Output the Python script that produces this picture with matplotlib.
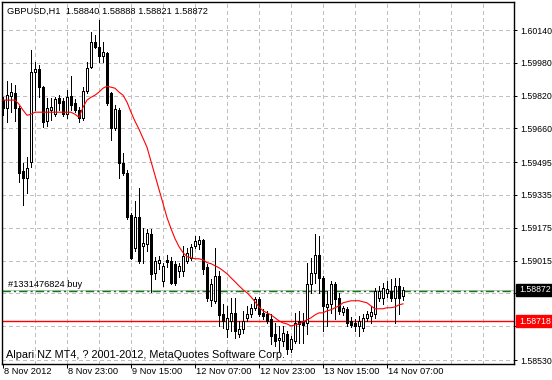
import matplotlib
matplotlib.use("Agg")
import matplotlib.pyplot as plt
from matplotlib.patches import Rectangle
import matplotlib.transforms as mtransforms

plt.rcParams['font.family'] = ['Liberation Sans', 'DejaVu Sans']
plt.rcParams['lines.scale_dashes'] = False

# ---------------- data ----------------
symbol_title = "GBPUSD,H1  1.58840 1.58888 1.58821 1.58872"

opens = [1.59798, 1.59758, 1.59817, 1.59832, 1.59758, 1.59450, 1.59416, 1.59494, 1.59935, 1.59949,
         1.59861, 1.59695, 1.59749, 1.59729, 1.59807, 1.59793, 1.59729, 1.59817, 1.59783, 1.59749,
         1.59710, 1.59842, 1.59959, 1.60082, 1.60057, 1.60013, 1.60028, 1.59832, 1.59661, 1.59749,
         1.59489, 1.59440, 1.59235, 1.59078, 1.59230, 1.59088, 1.59098, 1.59147, 1.58956, 1.59005,
         1.58917, 1.59019, 1.59015, 1.59000, 1.58966, 1.58966, 1.59015, 1.59029, 1.59088, 1.59098,
         1.59117, 1.58985, 1.58824, 1.58819, 1.58941, 1.58755, 1.58682, 1.58721, 1.58760, 1.58657,
         1.58682, 1.58736, 1.58755, 1.58785, 1.58829, 1.58760, 1.58755, 1.58731, 1.58657, 1.58628,
         1.58623, 1.58657, 1.58584, 1.58623, 1.58721, 1.58721, 1.58711, 1.58902, 1.58956, 1.59044,
         1.58931, 1.58789, 1.58804, 1.58902, 1.58834, 1.58765, 1.58780, 1.58721, 1.58711, 1.58696,
         1.58687, 1.58736, 1.58745, 1.58755, 1.58834, 1.58834, 1.58858, 1.58868, 1.58834, 1.58892,
         1.58840]
highs = [1.59812, 1.59891, 1.59881, 1.59871, 1.59768, 1.59489, 1.59519, 1.60042, 1.59984, 1.59969,
         1.59866, 1.59807, 1.59807, 1.59812, 1.59822, 1.59807, 1.59847, 1.59915, 1.59802, 1.59763,
         1.59861, 1.59984, 1.60130, 1.60116, 1.60189, 1.60082, 1.60033, 1.59837, 1.59773, 1.59758,
         1.59538, 1.59455, 1.59245, 1.59308, 1.59367, 1.59176, 1.59171, 1.59171, 1.59034, 1.59039,
         1.59005, 1.59044, 1.59034, 1.59015, 1.59005, 1.59088, 1.59078, 1.59098, 1.59137, 1.59137,
         1.59122, 1.59000, 1.58926, 1.59078, 1.58966, 1.58804, 1.58794, 1.58834, 1.58834, 1.58721,
         1.58770, 1.58794, 1.58804, 1.58838, 1.58838, 1.58780, 1.58770, 1.58755, 1.58711, 1.58696,
         1.58696, 1.58672, 1.58648, 1.58760, 1.58770, 1.58760, 1.59005, 1.59029, 1.59147, 1.59137,
         1.58941, 1.58868, 1.58917, 1.58912, 1.58858, 1.58794, 1.58789, 1.58740, 1.58731, 1.58745,
         1.58755, 1.58770, 1.58794, 1.58882, 1.58892, 1.58907, 1.58917, 1.58926, 1.58931, 1.58931,
         1.58888]
lows = [1.59724, 1.59690, 1.59739, 1.59695, 1.59396, 1.59284, 1.59347, 1.59470, 1.59749, 1.59812,
        1.59665, 1.59670, 1.59700, 1.59719, 1.59749, 1.59719, 1.59710, 1.59749, 1.59739, 1.59690,
        1.59700, 1.59832, 1.59954, 1.60052, 1.59984, 1.59984, 1.59773, 1.59602, 1.59651, 1.59416,
        1.59435, 1.59220, 1.59024, 1.59064, 1.59005, 1.59005, 1.59064, 1.58863, 1.58926, 1.58975,
        1.58892, 1.58985, 1.58902, 1.58897, 1.58936, 1.58941, 1.59005, 1.59019, 1.59078, 1.59073,
        1.58951, 1.58819, 1.58794, 1.58809, 1.58696, 1.58687, 1.58643, 1.58672, 1.58638, 1.58643,
        1.58662, 1.58721, 1.58740, 1.58775, 1.58745, 1.58731, 1.58711, 1.58608, 1.58599, 1.58574,
        1.58599, 1.58559, 1.58569, 1.58613, 1.58613, 1.58613, 1.58657, 1.58858, 1.58907, 1.58858,
        1.58672, 1.58696, 1.58760, 1.58731, 1.58755, 1.58750, 1.58696, 1.58692, 1.58672, 1.58648,
        1.58672, 1.58721, 1.58711, 1.58736, 1.58819, 1.58804, 1.58838, 1.58819, 1.58711, 1.58755,
        1.58821]
closes = [1.59758, 1.59822, 1.59837, 1.59758, 1.59440, 1.59416, 1.59465, 1.59935, 1.59949, 1.59861,
          1.59690, 1.59758, 1.59763, 1.59802, 1.59783, 1.59729, 1.59812, 1.59773, 1.59749, 1.59710,
          1.59842, 1.59954, 1.60082, 1.60057, 1.60013, 1.60033, 1.59783, 1.59661, 1.59754, 1.59489,
          1.59440, 1.59230, 1.59029, 1.59230, 1.59015, 1.59103, 1.59152, 1.58951, 1.59015, 1.59019,
          1.58990, 1.59010, 1.58907, 1.58907, 1.58990, 1.59039, 1.59054, 1.59083, 1.59112, 1.59117,
          1.58975, 1.58834, 1.58902, 1.58941, 1.58750, 1.58721, 1.58736, 1.58760, 1.58672, 1.58682,
          1.58721, 1.58755, 1.58785, 1.58829, 1.58755, 1.58745, 1.58721, 1.58648, 1.58623, 1.58638,
          1.58662, 1.58584, 1.58633, 1.58711, 1.58706, 1.58701, 1.58902, 1.58956, 1.59044, 1.58931,
          1.58794, 1.58804, 1.58902, 1.58829, 1.58770, 1.58785, 1.58711, 1.58701, 1.58696, 1.58721,
          1.58736, 1.58755, 1.58765, 1.58868, 1.58868, 1.58882, 1.58878, 1.58834, 1.58892, 1.58834,
          1.58872]
ma_values = [1.59798, 1.59798, 1.59798, 1.59798, 1.59778, 1.59749, 1.59724, 1.59729, 1.59739, 1.59739,
             1.59739, 1.59739, 1.59739, 1.59739, 1.59739, 1.59739, 1.59739, 1.59739, 1.59729, 1.59714,
             1.59763, 1.59798, 1.59812, 1.59822, 1.59837, 1.59856, 1.59866, 1.59861, 1.59856, 1.59837,
             1.59822, 1.59788, 1.59739, 1.59695, 1.59656, 1.59612, 1.59568, 1.59499, 1.59431, 1.59362,
             1.59294, 1.59225, 1.59171, 1.59122, 1.59083, 1.59054, 1.59034, 1.59029, 1.59024, 1.59024,
             1.59019, 1.59005, 1.59000, 1.58990, 1.58980, 1.58966, 1.58951, 1.58931, 1.58912, 1.58892,
             1.58873, 1.58858, 1.58838, 1.58814, 1.58789, 1.58770, 1.58760, 1.58750, 1.58736, 1.58721,
             1.58711, 1.58706, 1.58696, 1.58701, 1.58706, 1.58716, 1.58726, 1.58736, 1.58750, 1.58760,
             1.58760, 1.58770, 1.58775, 1.58785, 1.58794, 1.58809, 1.58814, 1.58819, 1.58819, 1.58819,
             1.58814, 1.58809, 1.58794, 1.58780, 1.58780, 1.58780, 1.58785, 1.58785, 1.58789, 1.58799,
             1.58804]

x_label_bars = [0, 16, 32, 48, 64, 80, 96]
x_labels = ["8 Nov 2012", "8 Nov 23:00", "9 Nov 15:00", "12 Nov 07:00",
            "12 Nov 23:00", "13 Nov 15:00", "14 Nov 07:00"]
y_ticks = [1.60140, 1.59980, 1.59820, 1.59660, 1.59495, 1.59335,
           1.59175, 1.59015, 1.58855, 1.58695, 1.58530]
# the 1.58855 and 1.58695 labels are hidden behind the price boxes in the reference
y_labels = ["1.60140", "1.59980", "1.59820", "1.59660", "1.59495", "1.59335",
            "1.59175", "1.59015", "", "", "1.58530"]

bid_price = 1.58872
bid_label = "1.58872"
order_price = 1.58867
order_label = "#1331476824 buy"
level_price = 1.58718
level_label = "1.58718"
copyright_text = "Alpari NZ MT4, ? 2001-2012, MetaQuotes Software Corp."

# ---------------- layout ----------------
W, H = 552, 380
fig = plt.figure(figsize=(W / 100, H / 100), dpi=100, facecolor='white')
ax_left, ax_right, ax_top, ax_bottom = 2, 514, 2, 364
ax = fig.add_axes([ax_left / W, (H - ax_bottom) / H,
                   (ax_right - ax_left) / W, (ax_bottom - ax_top) / H])
ax.set_facecolor('white')

bar_px = 4.0
first_bar_px = 3.0
ax.set_xlim((ax_left - first_bar_px) / bar_px, (ax_right - first_bar_px) / bar_px)

# price scale: top grid label at y=30 px, bottom grid label at y=360 px
px_per_price = (360 - 30) / (y_ticks[0] - y_ticks[-1])
ymax = y_ticks[0] + (30 - ax_top) / px_per_price
ymin = y_ticks[-1] - (ax_bottom - 360) / px_per_price
ax.set_ylim(ymin, ymax)

onepx = 0.72
grid_col = '#c0c0c0'
small = 6.7
axis_small = 6.3

# grid
n_total = int((ax_right - first_bar_px) / bar_px) + 1
for b in range(8, n_total, 8):
    ax.axvline(b, color=grid_col, lw=onepx, dashes=(2.16, 2.16), zorder=0.5,
               antialiased=False)
for v in y_ticks:
    ax.axhline(v, color=grid_col, lw=onepx, dashes=(2.16, 2.16), zorder=0.5,
               antialiased=False)

# horizontal order/level lines
ax.axhline(level_price, color='#ff0000', lw=1.0, zorder=1)
ax.axhline(bid_price, color='#c0c0c0', lw=onepx, zorder=1.1, antialiased=False)
ax.axhline(order_price, color='#0f7a0f', lw=1.0, zorder=1.2,
           dashes=(6.0, 2.2, 1.6, 2.2))

# candles
for i in range(len(opens)):
    o, h, l, c = opens[i], highs[i], lows[i], closes[i]
    ax.vlines(i, l, h, color='black', lw=onepx, zorder=2, antialiased=False)
    lo, hi = min(o, c), max(o, c)
    if hi - lo < 1e-9:
        ax.hlines(o, i - 0.25, i + 0.25, color='black', lw=onepx, zorder=3,
                  antialiased=False)
    else:
        face = 'white' if c > o else 'black'
        ax.add_patch(Rectangle((i - 0.25, lo), 0.5, hi - lo, facecolor=face,
                               edgecolor='black', lw=onepx, zorder=3,
                               antialiased=False))

# moving average
ax.plot(range(len(ma_values)), ma_values, color='#ff0000', lw=0.8, zorder=4)

# frame
for sp in ax.spines.values():
    sp.set_color('black')
    sp.set_linewidth(1.0)

# axes ticks
ax.yaxis.tick_right()
ax.set_yticks(y_ticks)
ax.set_yticklabels(y_labels)
ax.tick_params(axis='y', direction='out', length=2.4, width=onepx, pad=2.0,
               labelsize=axis_small, colors='black')
ax.set_xticks(x_label_bars)
ax.set_xticklabels([''] * len(x_label_bars))
ax.tick_params(axis='x', direction='out', length=3.0, width=onepx, pad=0)

for b, lab in zip(x_label_bars, x_labels):
    ax.annotate(lab, xy=(b, 0), xycoords=('data', 'axes fraction'),
                xytext=(1.5, -2.5), textcoords='offset pixels',
                ha='left', va='top', fontsize=small, color='black',
                annotation_clip=False)

# price boxes on right axis
blend = mtransforms.blended_transform_factory(fig.transFigure, ax.transData)
box_h = 12 / px_per_price
for price, lab, col in [(bid_price, bid_label, 'black'), (level_price, level_label, '#ff0000')]:
    rect = Rectangle((516 / W, price - box_h / 2), (W - 516) / W, box_h,
                     transform=blend, facecolor=col, edgecolor=col,
                     zorder=10, clip_on=False)
    fig.add_artist(rect)
    fig.text(519 / W, price, lab, transform=blend, color='white', fontsize=axis_small,
             ha='left', va='center', zorder=11)

# texts
fig.text(7 / W, 1 - 11 / H, symbol_title, fontsize=small, ha='left', va='center',
         color='black')
ax.annotate(order_label, xy=(0, order_price), xycoords=('axes fraction', 'data'),
            xytext=(6, 2), textcoords='offset pixels', ha='left', va='bottom',
            fontsize=small, color='black')
fig.text(6 / W, 1 - 355 / H, copyright_text, fontsize=7.8, ha='left', va='center',
         color='black')

fig.savefig('out.png', dpi=100, facecolor='white')
